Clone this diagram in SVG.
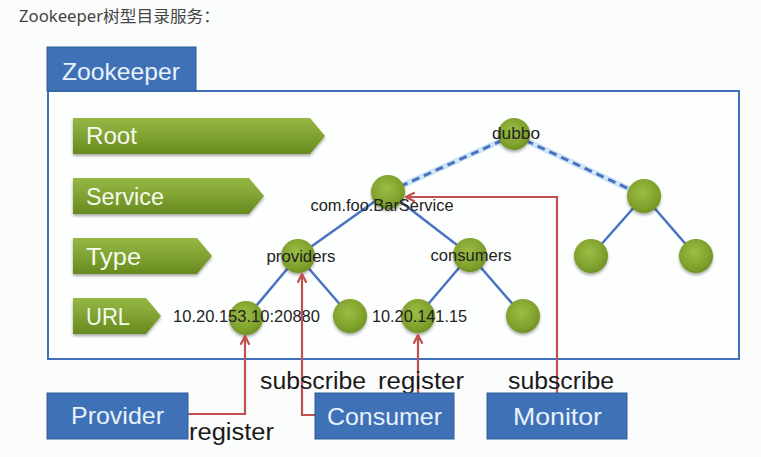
<svg xmlns="http://www.w3.org/2000/svg" width="761" height="457" viewBox="0 0 761 457">
<defs>
<linearGradient id="gbar" x1="0" y1="0" x2="0" y2="1">
<stop offset="0" stop-color="#95b845"/>
<stop offset="0.5" stop-color="#7fa232"/>
<stop offset="1" stop-color="#678a1f"/>
</linearGradient>
<radialGradient id="gnode" cx="0.45" cy="0.4" r="0.65">
<stop offset="0" stop-color="#9cbd45"/>
<stop offset="0.7" stop-color="#7fa12c"/>
<stop offset="1" stop-color="#6a8c20"/>
</radialGradient>
<filter id="sh" x="-30%" y="-30%" width="160%" height="170%">
<feGaussianBlur in="SourceAlpha" stdDeviation="1.5"/>
<feOffset dy="2" result="b"/>
<feComponentTransfer><feFuncA type="linear" slope="0.35"/></feComponentTransfer>
<feMerge><feMergeNode/><feMergeNode in="SourceGraphic"/></feMerge>
</filter>
<marker id="arr" viewBox="0 0 10 10" refX="9" refY="5" markerWidth="11" markerHeight="11" markerUnits="userSpaceOnUse" orient="auto">
<path d="M1,1 L9,5 L1,9" fill="none" stroke="#c0504d" stroke-width="2"/>
</marker>
<style>
.bar{fill:url(#gbar);filter:url(#sh)}
.bartxt{font-family:"Liberation Sans",Arial,sans-serif;font-size:23px;fill:#f6f9ee}
.node{fill:url(#gnode);filter:url(#sh)}
.lbl{font-family:"Liberation Sans",Arial,sans-serif;font-size:16px;fill:#222}
.edge{stroke:#4a72c0;stroke-width:2.5;fill:none}
.dash{stroke:#4a72c0;stroke-width:3;stroke-dasharray:8 5;fill:none}
.glow{stroke:#cfe6f7;stroke-width:6;fill:none}
.red{stroke:#c0504d;stroke-width:2.2;fill:none}
.box{fill:#3f71b6;stroke:#2f5d98;stroke-width:1}
.boxtxt{font-family:"Liberation Sans",Arial,sans-serif;font-size:24px;fill:#e8f1fb}
.act{font-family:"Liberation Sans",Arial,sans-serif;font-size:23px;fill:#1a1a1a}
</style>
</defs>
<rect width="761" height="457" fill="#fbfcfc"/>
<text x="19" y="22" font-family="'Noto Sans','Noto Sans CJK SC',sans-serif" font-size="16" fill="#444" textLength="201" lengthAdjust="spacingAndGlyphs">Zookeeper树型目录服务：</text>

<g id="zookeeper">
<rect x="48" y="91" width="691" height="268" fill="#fdfefe" stroke="#4070b8" stroke-width="2"/>
<rect x="47" y="47" width="149" height="44" fill="#3f71b6" stroke="#2f5d98" stroke-width="1"/>
<text x="62" y="80" class="boxtxt" textLength="118" lengthAdjust="spacingAndGlyphs">Zookeeper</text>
</g>

<g id="level-root"><path class="bar" d="M73,118 H310 L325,136 L310,154 H73 Z"/><text x="86" y="144" class="bartxt" textLength="51" lengthAdjust="spacingAndGlyphs">Root</text></g>
<g id="level-service"><path class="bar" d="M73,178 H249 L264,196 L249,214 H73 Z"/><text x="86" y="205" class="bartxt" textLength="78" lengthAdjust="spacingAndGlyphs">Service</text></g>
<g id="level-type"><path class="bar" d="M73,238 H197 L212,256 L197,274 H73 Z"/><text x="86" y="265" class="bartxt" textLength="55" lengthAdjust="spacingAndGlyphs">Type</text></g>
<g id="level-url"><path class="bar" d="M73,298 H146 L161,316 L146,334 H73 Z"/><text x="86" y="325" class="bartxt" textLength="44" lengthAdjust="spacingAndGlyphs">URL</text></g>

<g id="connectors">
<line class="glow" x1="514" y1="135" x2="388" y2="192"/>
<line class="glow" x1="514" y1="135" x2="644" y2="196"/>
<line class="dash" x1="514" y1="135" x2="388" y2="192"/>
<line class="dash" x1="514" y1="135" x2="644" y2="196"/>
<line class="edge" x1="388" y1="192" x2="298" y2="256"/>
<line class="edge" x1="388" y1="192" x2="470" y2="255"/>
<line class="edge" x1="298" y1="256" x2="246" y2="318"/>
<line class="edge" x1="298" y1="256" x2="350" y2="316"/>
<line class="edge" x1="470" y1="255" x2="418" y2="316"/>
<line class="edge" x1="470" y1="255" x2="523" y2="316"/>
<line class="edge" x1="644" y1="196" x2="591" y2="256"/>
<line class="edge" x1="644" y1="196" x2="696" y2="256"/>
</g>

<g id="n-dubbo"><circle class="node" cx="514" cy="134" r="16"/><text x="516" y="139" class="lbl" text-anchor="middle" textLength="48" lengthAdjust="spacingAndGlyphs">dubbo</text></g>
<g id="n-service"><circle class="node" cx="388" cy="192" r="17"/><text x="382" y="211" class="lbl" text-anchor="middle" textLength="143" lengthAdjust="spacingAndGlyphs">com.foo.BarService</text></g>
<g id="n-service2"><circle class="node" cx="644" cy="196" r="17"/></g>
<g id="n-providers"><circle class="node" cx="298" cy="256" r="17"/><text x="301" y="262" class="lbl" text-anchor="middle" textLength="69" lengthAdjust="spacingAndGlyphs">providers</text></g>
<g id="n-consumers"><circle class="node" cx="470" cy="255" r="17"/><text x="471" y="261" class="lbl" text-anchor="middle" textLength="81" lengthAdjust="spacingAndGlyphs">consumers</text></g>
<g id="n-s2a"><circle class="node" cx="591" cy="256" r="17"/></g>
<g id="n-s2b"><circle class="node" cx="696" cy="256" r="17"/></g>
<g id="n-url1"><circle class="node" cx="246" cy="318" r="17"/><text x="173" y="322" class="lbl" textLength="147" lengthAdjust="spacingAndGlyphs">10.20.153.10:20880</text></g>
<g id="n-url2"><circle class="node" cx="350" cy="316" r="17"/></g>
<g id="n-url3"><circle class="node" cx="418" cy="316" r="17"/><text x="372" y="322" class="lbl" textLength="95" lengthAdjust="spacingAndGlyphs">10.20.141.15</text></g>
<g id="n-url4"><circle class="node" cx="523" cy="316" r="17"/></g>

<g id="actor-connectors">
<path class="red" d="M188,414 H245 V336" marker-end="url(#arr)"/>
<path class="red" d="M315,415 H302 V274" marker-end="url(#arr)"/>
<path class="red" d="M418,393 V335" marker-end="url(#arr)"/>
<path class="red" d="M557,393 V197 H406" marker-end="url(#arr)"/>
<text x="189" y="440" class="act" textLength="85" lengthAdjust="spacingAndGlyphs">register</text>
<text x="260" y="389" class="act" textLength="106" lengthAdjust="spacingAndGlyphs">subscribe</text>
<text x="378" y="389" class="act" textLength="86" lengthAdjust="spacingAndGlyphs">register</text>
<text x="508" y="389" class="act" textLength="106" lengthAdjust="spacingAndGlyphs">subscribe</text>
</g>

<g id="provider"><rect class="box" x="47" y="393" width="141" height="46"/><text x="71" y="424" class="boxtxt" textLength="93" lengthAdjust="spacingAndGlyphs">Provider</text></g>
<g id="consumer"><rect class="box" x="315" y="393" width="139" height="46"/><text x="327" y="425" class="boxtxt" textLength="115" lengthAdjust="spacingAndGlyphs">Consumer</text></g>
<g id="monitor"><rect class="box" x="487" y="393" width="140" height="46"/><text x="513" y="425" class="boxtxt" textLength="89" lengthAdjust="spacingAndGlyphs">Monitor</text></g>
</svg>
